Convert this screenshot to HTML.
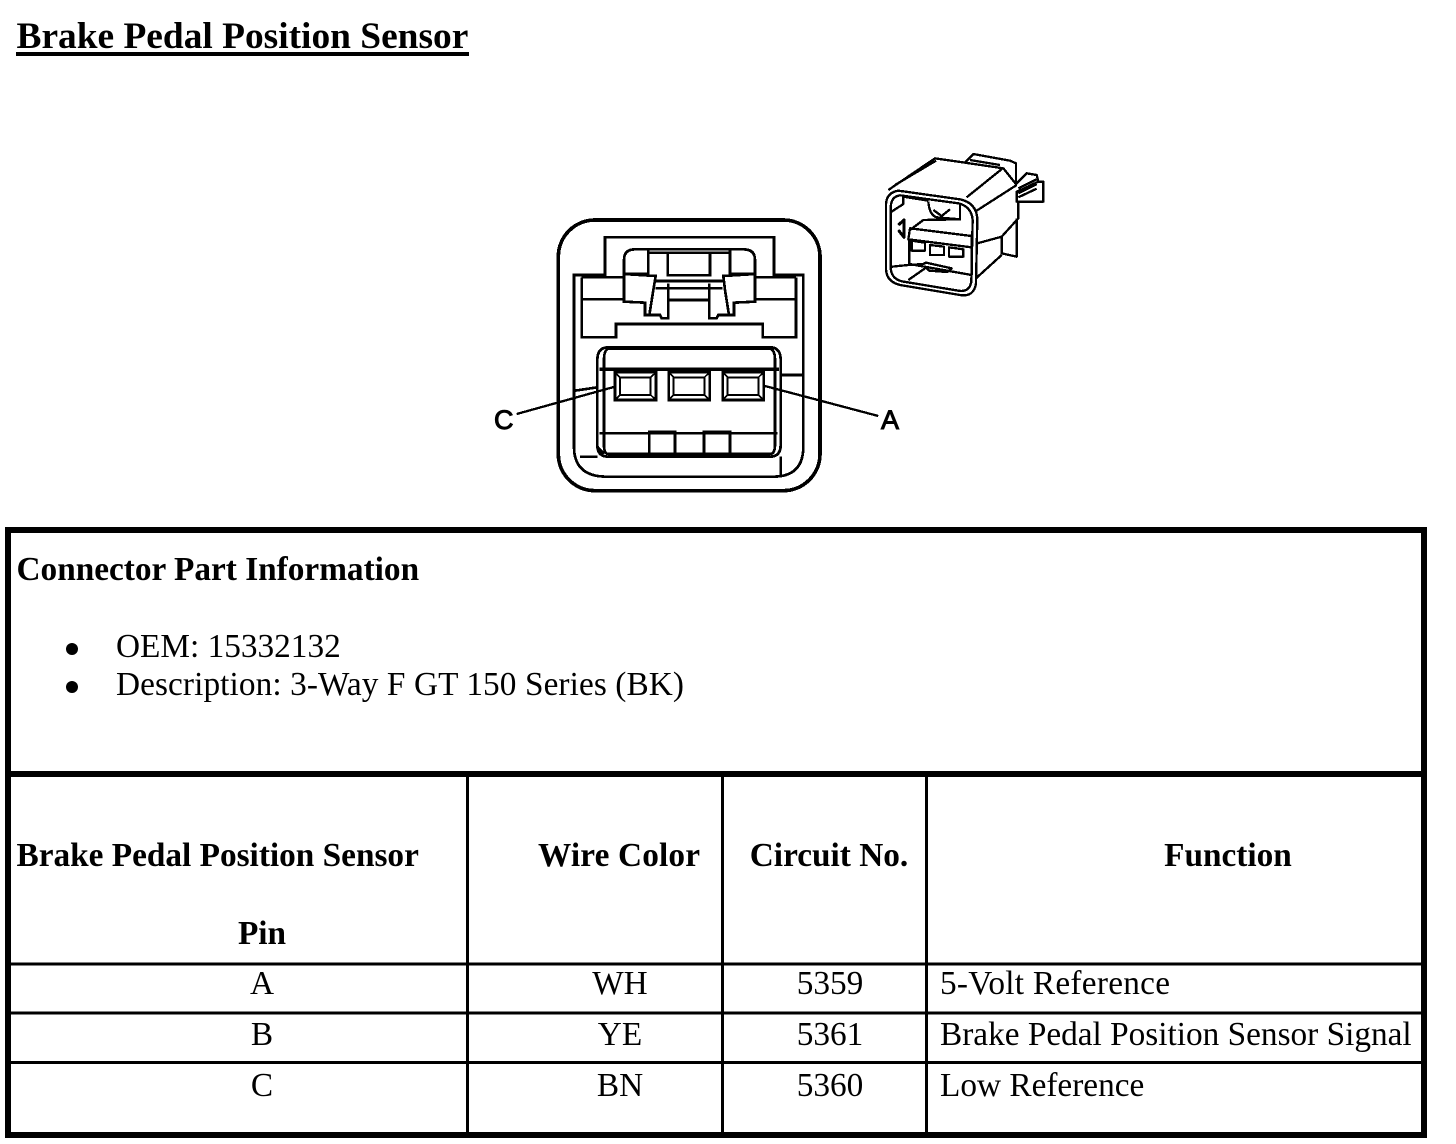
<!DOCTYPE html>
<html>
<head>
<meta charset="utf-8">
<style>
html,body{margin:0;padding:0;background:#fff}
svg{display:block}
text{fill:#000;font-family:"Liberation Serif",serif}
.b{font-weight:bold;font-size:33.3px}
.r{font-size:33.3px}
.m{text-anchor:middle}
</style>
</head>
<body>
<svg width="1456" height="1144" viewBox="0 0 1456 1144" xmlns="http://www.w3.org/2000/svg">
<rect width="1456" height="1144" fill="#fff"/>
<text x="16.500" y="48" class="b" style="font-size:37.4px">Brake Pedal Position Sensor</text>
<rect x="16" y="52" width="453" height="4"/>

<!-- Main connector -->
<g transform="translate(480 200) scale(.33333)" fill="none" stroke="#000" stroke-width="8" shape-rendering="crispEdges">
<rect x="235" y="60" width="785" height="812" rx="110" stroke-width="11"/>
<path d="M282 225H375V112H882V225H970V740Q970 830 880 830H380Q282 830 282 740Z"/>
<path d="M305 232V412H408V372H848V412H948V232"/>
<path d="M305 232H432M830 232H948M305 298H432M830 298H948"/>
<!-- latch -->
<path d="M432 222V180Q432 148 465 148H790Q825 148 825 180V222"/>
<path d="M505 158H750M505 148V222H432M750 148V222H825"/>
<path d="M563 155V226H690V155"/>
<path d="M432 222L527 228L520 270L508 345M432 222V305L495 308V345H540L545 355H565V250"/>
<path d="M825 222L730 228L735 270L747 345M825 222V305L762 308V345H715L710 355H688V250"/>
<path d="M527 243H728M527 265H728M565 300H690"/>
<!-- cavity -->
<path d="M385 442H870Q902 442 902 480V735Q902 770 870 770H385Q352 770 352 735V480Q352 442 385 442Z"/>
<path d="M385 446H870Q885 450 885 480V735Q885 762 870 762H385Q372 762 372 735V480Q372 450 385 446Z"/>
<path d="M358 508H897" stroke-width="10"/>
<path d="M358 700H892M285 572L352 562M902 525H970M300 770H352M902 770V825M352 740L372 762"/>
<path d="M508 765V695H585V765M672 765V695H750V765"/>
<!-- pins -->
<g>
<rect x="405" y="517" width="123" height="83"/>
<rect x="420" y="532" width="92" height="53" stroke-width="6"/>
<path d="M405 517L420 532M528 517L512 532M405 600L420 585M528 600L512 585" stroke-width="5"/>
</g>
<g transform="translate(161 0)">
<rect x="405" y="517" width="123" height="83"/>
<rect x="420" y="532" width="92" height="53" stroke-width="6"/>
<path d="M405 517L420 532M528 517L512 532M405 600L420 585M528 600L512 585" stroke-width="5"/>
</g>
<g transform="translate(323 0)">
<rect x="405" y="517" width="123" height="83"/>
<rect x="420" y="532" width="92" height="53" stroke-width="6"/>
<path d="M405 517L420 532M528 517L512 532M405 600L420 585M528 600L512 585" stroke-width="5"/>
</g>
<!-- leaders -->
<path d="M110 642L405 560M855 558L1195 648" stroke-width="7"/>
</g>
<text x="494" y="429" style="font-family:'Liberation Sans',sans-serif;font-size:27px;stroke:#000;stroke-width:1">C</text>
<text x="881" y="429" style="font-family:'Liberation Sans',sans-serif;font-size:27px;stroke:#000;stroke-width:1">A</text>

<!-- Small connector -->
<g transform="translate(870 140) scale(.33333)" fill="none" stroke="#000" stroke-width="7" stroke-linejoin="round" shape-rendering="crispEdges">
<path d="M48 195Q48 158 85 152L270 178Q318 188 322 235L318 430Q312 472 270 465L90 435Q48 425 48 385Z"/>
<path d="M62 205Q62 170 90 166L265 190Q305 200 308 240L304 425Q298 458 265 452L95 424Q62 415 62 380Z"/>
<path d="M55 150L195 55L285 68L310 42L420 62L438 70V130M75 135L198 62M285 68L400 85L440 135M300 60L390 75M290 172L398 85"/>
<path d="M320 212L440 135M322 310L395 290L445 235V185"/>
<path d="M440 130L470 100L500 105L505 125H520V185H440V155L505 125"/>
<path d="M445 145L500 118M445 160L500 132M445 172L500 146"/>
<path d="M395 290V340L440 350V235M318 415L395 345"/>
<path d="M65 215L100 192V166M100 170L175 182M175 185Q178 225 200 232L270 238V195M190 210L215 228L240 208M270 238L160 240L120 270"/>
<path d="M85 255L102 240V292L85 270" stroke-width="9"/>
<path d="M120 265L305 288V322L115 298ZM305 322V405"/>
<path d="M118 298V372L305 405M125 302V332H165V308ZM180 315V345H222V320ZM237 322V350H280V328Z"/>
<path d="M66 380L115 375L160 372L168 368L245 385L232 396L178 392L165 380M115 420L165 385"/>
</g>

<!-- Table -->
<g fill="none" stroke="#000">
<rect x="8" y="530" width="1416" height="605" stroke-width="6"/>
<path d="M8 774H1424" stroke-width="6"/>
<path d="M8 964H1424M8 1013H1424M8 1062.500H1424M467.500 774V1135M722.500 774V1135M926.500 774V1135" stroke-width="3"/>
</g>
<text x="16.500" y="580" class="b">Connector Part Information</text>
<circle cx="72" cy="649" r="6"/>
<circle cx="72" cy="687" r="6"/>
<text x="116" y="657" class="r">OEM: 15332132</text>
<text x="116" y="695" class="r" textLength="568">Description: 3-Way F GT 150 Series (BK)</text>

<text x="16.500" y="866" class="b">Brake Pedal Position Sensor</text>
<text x="262" y="944" class="b m">Pin</text>
<text x="538" y="866" class="b" textLength="162">Wire Color</text>
<text x="829" y="866" class="b m">Circuit No.</text>
<text x="1228" y="866" class="b m">Function</text>

<text x="262" y="994" class="r m">A</text>
<text x="620" y="994" class="r m">WH</text>
<text x="830" y="994" class="r m">5359</text>
<text x="940" y="994" class="r" textLength="230">5-Volt Reference</text>

<text x="262" y="1045" class="r m">B</text>
<text x="620" y="1045" class="r m">YE</text>
<text x="830" y="1045" class="r m">5361</text>
<text x="940" y="1045" class="r">Brake Pedal Position Sensor Signal</text>

<text x="262" y="1096" class="r m">C</text>
<text x="620" y="1096" class="r m">BN</text>
<text x="830" y="1096" class="r m">5360</text>
<text x="940" y="1096" class="r">Low Reference</text>
</svg>
</body>
</html>
